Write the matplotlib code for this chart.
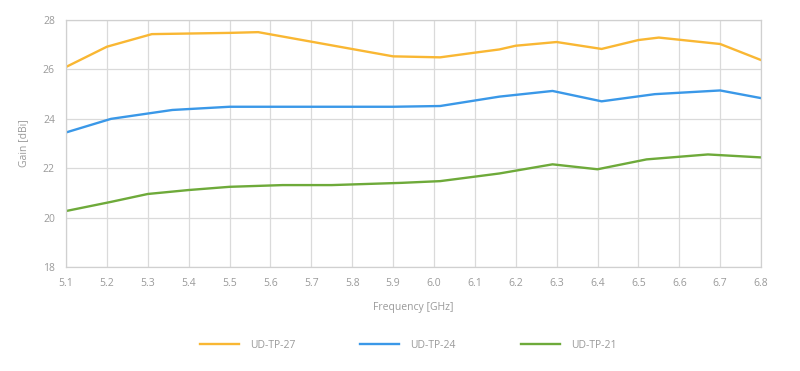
#! /usr/bin/env python3

import matplotlib
matplotlib.use( 'Agg' )
import matplotlib.pyplot as plt

#----------------------------------------------------------------------------
# Data
#----------------------------------------------------------------------------
freq27 = [5.10, 5.20, 5.31, 5.50, 5.57, 5.90, 6.015, 6.10, 6.16, 6.20,
          6.30, 6.41, 6.50, 6.55, 6.70, 6.80]
gain27 = [26.10, 26.92, 27.43, 27.48, 27.51, 26.53, 26.49, 26.68, 26.81, 26.96,
          27.11, 26.83, 27.19, 27.29, 27.03, 26.38]

freq24 = [5.10, 5.21, 5.36, 5.50, 5.90, 6.015, 6.16, 6.29, 6.41, 6.54,
          6.70, 6.80]
gain24 = [23.45, 24.00, 24.36, 24.49, 24.49, 24.52, 24.90, 25.13, 24.71, 25.00,
          25.15, 24.84]

freq21 = [5.10, 5.21, 5.30, 5.40, 5.50, 5.63, 5.75, 5.92, 6.015, 6.16,
          6.29, 6.40, 6.52, 6.67, 6.80]
gain21 = [20.27, 20.64, 20.96, 21.12, 21.25, 21.32, 21.32, 21.41, 21.48, 21.79,
          22.16, 21.96, 22.36, 22.56, 22.44]

labels  = [ 'UD-TP-27', 'UD-TP-24', 'UD-TP-21' ]
colors  = [ '#F9B733', '#3A98E8', '#6EAA3A' ]

xticks  = [ round( 5.1 + 0.1 * i, 1 ) for i in range( 18 ) ]
yticks  = [ 18, 20, 22, 24, 26, 28 ]

#----------------------------------------------------------------------------
def main():
    plt.rcParams['font.family'] = [ 'Open Sans', 'DejaVu Sans' ]
    textColor = '#9a9a9a'

    fig = plt.figure( figsize = ( 8, 3.71 ), dpi = 100 )
    ax  = fig.add_axes( [ 0.0825, 0.280, 0.8688, 0.666 ] )

    series = [ ( freq27, gain27 ), ( freq24, gain24 ), ( freq21, gain21 ) ]
    for ( x, y ), lab, c in zip( series, labels, colors ):
        ax.plot( x, y, color = c, lw = 1.7, label = lab,
                 solid_joinstyle = 'round' )

    ax.set_xlim( 5.1, 6.8 )
    ax.set_ylim( 18, 28 )
    ax.set_xticks( xticks )
    ax.set_xticklabels( [ '%.1f' % t for t in xticks ] )
    ax.set_yticks( yticks )

    ax.grid( True, color = '#dadada', lw = 0.9 )
    ax.set_axisbelow( True )
    for s in ax.spines.values():
        s.set_color( '#d0d0d0' )
        s.set_linewidth( 0.9 )

    ax.tick_params( length = 0, labelsize = 7.5, colors = textColor,
                    pad = 8 )
    ax.set_xlabel( 'Frequency [GHz]', fontsize = 7.5, color = textColor,
                   labelpad = 9 )
    ax.set_ylabel( 'Gain [dBi]', fontsize = 7.5, color = textColor,
                   labelpad = 10 )

    leg = fig.legend( loc = 'center', bbox_to_anchor = ( 0.51, 1 - 345 / 371 ),
                      ncol = 3, frameon = False, fontsize = 7.5,
                      handlelength = 3.75, handletextpad = 1.05,
                      columnspacing = 6.25 )
    for t in leg.get_texts():
        t.set_color( textColor )

    fig.savefig( 'out.png', dpi = 100 )

#----------------------------------------------------------------------------
if __name__ == "__main__":
    main()
